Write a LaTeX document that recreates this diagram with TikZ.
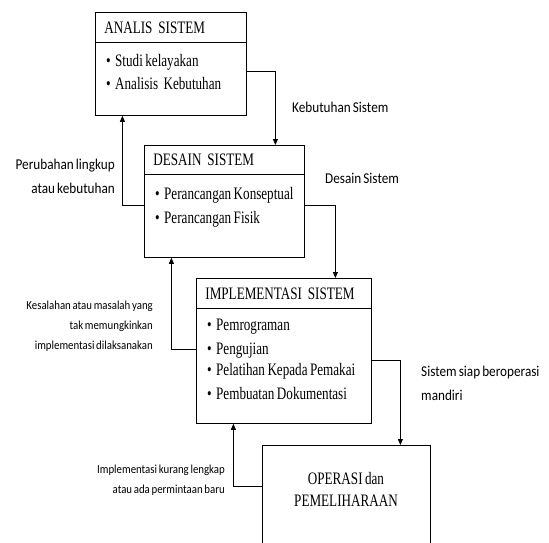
\documentclass[tikz,border=0pt]{standalone}
\usepackage{fontspec}
\setmainfont{Liberation Serif}[FakeStretch=0.75, WordSpace=0.75]
\newfontfamily\labfont{Carlito}[FakeStretch=0.88, WordSpace=0.7]
\usetikzlibrary{arrows.meta}
\begin{document}
\begin{tikzpicture}[x=1pt,y=-1pt,
  boxpart/.style={draw, line width=0.8pt, inner sep=0pt, anchor=north west,
    font=\fontsize{17.5}{20}\selectfont},
  headbox/.style={boxpart, align=left, inner xsep=9pt},
  itemtxt/.style={anchor=base west, inner sep=0pt, font=\fontsize{17.5}{20}\selectfont},
  lab/.style={inner sep=0pt, font=\labfont\fontsize{15}{24}\selectfont},
  smalllab/.style={inner sep=0pt, font=\labfont\fontsize{12.3}{20}\selectfont},
  arr/.style={line width=0.8pt, -{Triangle[length=6pt,width=5pt]}}]
\useasboundingbox (0,0) rectangle (549,542);
\clip (0,0) rectangle (549,542);
\newcommand{\itm}{\makebox[9pt][l]{\textbullet}}
% box 1
\node[headbox, text width=133pt, minimum height=30pt] (b1h) at (95,12) {ANALIS SISTEM};
\node[boxpart, minimum width=151pt, minimum height=73pt] (b1b) at (95,42) {};
\node[itemtxt] (b1i1) at (106,66) {\itm Studi kelayakan};
\node[itemtxt] (b1i2) at (106,89) {\itm Analisis\, Kebutuhan};
% box 2
\node[headbox, text width=142pt, minimum height=29pt] (b2h) at (144,145) {DESAIN SISTEM};
\node[boxpart, minimum width=160pt, minimum height=83pt] (b2b) at (144,174) {};
\node[itemtxt] (b2i1) at (155,199) {\itm Perancangan Konseptual};
\node[itemtxt] (b2i2) at (155,223) {\itm Perancangan Fisik};
% box 3
\node[headbox, text width=157pt, minimum height=30pt] (b3h) at (196,278) {IMPLEMENTASI SISTEM};
\node[boxpart, minimum width=175pt, minimum height=115pt] (b3b) at (196,308) {};
\node[itemtxt] (b3i1) at (207,330) {\itm Pemrograman};
\node[itemtxt] (b3i2) at (207,354) {\itm Pengujian};
\node[itemtxt] (b3i3) at (207,375) {\itm Pelatihan Kepada Pemakai};
\node[itemtxt] (b3i4) at (207,399) {\itm Pembuatan Dokumentasi};
% box 4
\node[boxpart, minimum width=168pt, minimum height=115pt] (b4) at (262,445) {};
\node[align=center, inner sep=0pt, font=\fontsize{17.5}{22}\selectfont] (b4t) at (346,489) {OPERASI dan\\PEMELIHARAAN};
% connectors
\draw[arr] ([yshift=7.5pt]b1b.east) -| ([xshift=51pt]b2h.north);
\draw[arr] ([yshift=10.5pt]b2b.west) -| ([xshift=-48.5pt]b1b.south);
\draw[arr] ([yshift=10.5pt]b2b.east) -| ([xshift=51.5pt]b3h.north);
\draw[arr] ([yshift=16.5pt]b3b.west) -| ([xshift=-53pt]b2b.south);
\draw[arr] ([yshift=5.5pt]b3b.east) -| ([xshift=54pt]b4.north);
\draw[arr] ([yshift=16.5pt]b4.west) -| ([xshift=-50.5pt]b3b.south);
% labels
\node[lab, anchor=west] (l1) at (292,107) {Kebutuhan Sistem};
\node[lab, anchor=west] (l2) at (325,178) {Desain Sistem};
\node[lab, anchor=east, align=right] (l3) at (115,176) {Perubahan lingkup\\atau kebutuhan};
\node[smalllab, anchor=east, align=right] (l4) at (153,326) {Kesalahan atau masalah yang\\tak memungkinkan\\implementasi dilaksanakan};
\node[lab, anchor=west, align=left] (l5) at (421,383) {Sistem siap beroperasi\\mandiri};
\node[smalllab, anchor=east, align=right] (l6) at (225,480) {Implementasi kurang lengkap\\atau ada permintaan baru};
\end{tikzpicture}
\end{document}
